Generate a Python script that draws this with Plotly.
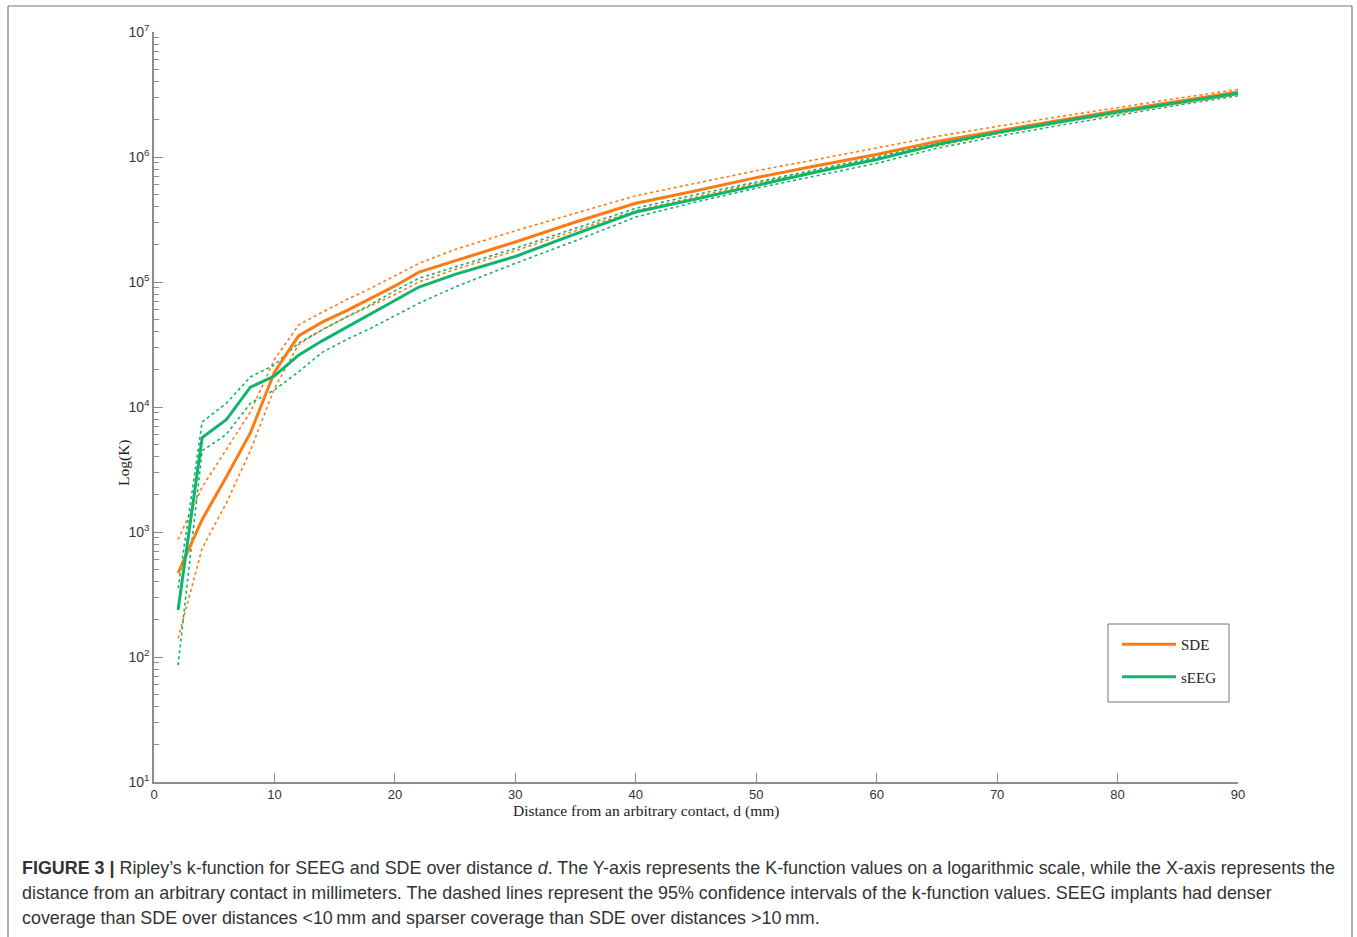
import plotly.graph_objects as go

# distance (mm)
distance = [2, 4, 6, 8, 10, 12, 14, 16, 18, 20, 22, 25, 30, 35, 40, 45, 50, 55, 60, 65, 70, 75, 80, 85, 90]

# SDE k-function and 95% CI
sde_k = [468, 1260, 2750, 6200, 19000, 37000, 48000, 59000, 74000, 93000, 120000, 148000, 209000,
         302000, 427000, 537000, 684000, 851000, 1047000, 1334000, 1622000, 1950000, 2344000, 2786000, 3311000]
sde_upper = [871, 2290, 4570, 9120, 24000, 45300, 57500, 72400, 89100, 112000, 141000, 182000, 257000,
             355000, 490000, 617000, 776000, 955000, 1175000, 1462000, 1758000, 2089000, 2512000, 2951000, 3467000]
sde_lower = [141, 741, 1700, 4470, 14100, 31600, 41700, 52500, 64600, 79400, 100000, 126000, 178000,
             257000, 372000, 479000, 617000, 776000, 977000, 1230000, 1531000, 1862000, 2239000, 2661000, 3162000]

# sEEG k-function and 95% CI
seeg_k = [238, 5700, 7900, 14400, 17700, 26000, 34000, 43600, 56000, 71800, 91200, 115000, 160000,
          243000, 363000, 462000, 596000, 759000, 955000, 1259000, 1567000, 1897000, 2291000, 2723000, 3236000]
seeg_upper = [355, 7590, 10700, 17400, 21700, 32400, 41700, 52500, 66100, 85100, 107000, 132000, 186000,
              269000, 389000, 501000, 631000, 794000, 1000000, 1303000, 1622000, 1950000, 2344000, 2786000, 3311000]
seeg_lower = [86, 4470, 6030, 10700, 13700, 19100, 27500, 34700, 42700, 53700, 67600, 91200, 141000,
              214000, 331000, 437000, 562000, 708000, 891000, 1175000, 1462000, 1778000, 2163000, 2600000, 3090000]

x_ticks = [0, 10, 20, 30, 40, 50, 60, 70, 80, 90]
y_ticks = [10, 100, 1000, 10000, 100000, 1000000, 10000000]
y_ticktext = ["10<sup>1</sup>", "10<sup>2</sup>", "10<sup>3</sup>", "10<sup>4</sup>",
              "10<sup>5</sup>", "10<sup>6</sup>", "10<sup>7</sup>"]

ORANGE = "#FF7A12"
GREEN = "#10B46C"

fig = go.Figure()
for y, c in [(sde_upper, ORANGE), (sde_lower, ORANGE), (seeg_upper, GREEN), (seeg_lower, GREEN)]:
    fig.add_trace(go.Scatter(x=distance, y=y, mode="lines", showlegend=False,
                             line=dict(color=c, width=1.6, dash="3px,3px"), hoverinfo="skip"))
fig.add_trace(go.Scatter(x=distance, y=sde_k, mode="lines", name="SDE", legendgroup="a",
                         line=dict(color=ORANGE, width=3)))
fig.add_trace(go.Scatter(x=distance, y=seeg_k, mode="lines", name="sEEG", legendgroup="b",
                         line=dict(color=GREEN, width=3)))

minor_vals = [m * 10 ** e for e in range(1, 7) for m in range(2, 10)]

W, H = 1357, 937
L, R, T, B = 154, 1238, 32, 782
pw, ph = R - L, B - T


def px(xp):
    return (xp - L) / pw


def py(yp):
    return (B - yp) / ph


AX = "#8c8c8c"
fig.update_layout(
    width=W, height=H,
    margin=dict(l=L, r=W - R, t=T, b=H - B),
    paper_bgcolor="white", plot_bgcolor="white",
    showlegend=True,
    legend=dict(x=px(1117), y=py(628), xanchor="left", yanchor="top",
                bgcolor="rgba(0,0,0,0)", borderwidth=0,
                font=dict(family="Liberation Serif", size=15, color="#222"),
                traceorder="grouped", tracegroupgap=10, itemwidth=54),
    xaxis=dict(range=[0, 90], tickvals=x_ticks, ticks="inside", ticklen=9, tickwidth=1.2,
               tickcolor=AX, showline=True, linecolor=AX, linewidth=1.5, showgrid=False,
               zeroline=False, tickfont=dict(family="Liberation Sans", size=13, color="#333")),
    yaxis=dict(type="log", range=[1, 7], tickvals=y_ticks, ticktext=y_ticktext,
               ticks="inside", ticklen=9, tickwidth=1.2, tickcolor=AX,
               showline=True, linecolor=AX, linewidth=1.5, showgrid=False, zeroline=False,
               minor=dict(tickvals=minor_vals, ticks="inside", ticklen=5, tickwidth=1,
                          tickcolor=AX, showgrid=False),
               tickfont=dict(family="Liberation Sans", size=14, color="#333")),
)

# legend box
fig.add_shape(type="rect", xref="paper", yref="paper",
              x0=px(1108), x1=px(1229), y0=py(702), y1=py(624),
              line=dict(color="#777", width=1), fillcolor="rgba(0,0,0,0)")

# outer frame
for x0, y0, x1, y1 in [(8, 6, 8, 940), (8, 6, 1352, 6), (1352, 6, 1352, 940)]:
    fig.add_shape(type="line", xref="paper", yref="paper",
                  x0=px(x0), x1=px(x1), y0=py(y0), y1=py(y1),
                  line=dict(color="#7a7a7a", width=1.2))

# axis titles
fig.add_annotation(text="Distance from an arbitrary contact, d (mm)", xref="paper", yref="paper",
                   x=px(646), y=py(811), xanchor="center", yanchor="middle", showarrow=False,
                   font=dict(family="Liberation Serif", size=15.5, color="#222"))
fig.add_annotation(text="Log(K)", xref="paper", yref="paper", textangle=-90,
                   x=px(124), y=py(463), xanchor="center", yanchor="middle", showarrow=False,
                   font=dict(family="Liberation Serif", size=15.5, color="#222"))

caption = [
    "<b>FIGURE 3 |</b> Ripley\u2019s k-function for SEEG and SDE over distance <i>d</i>. The Y-axis represents the K-function values on a logarithmic scale, while the X-axis represents the",
    "distance from an arbitrary contact in millimeters. The dashed lines represent the 95% confidence intervals of the k-function values. SEEG implants had denser",
    "coverage than SDE over distances &lt;10\u2009mm and sparser coverage than SDE over distances &gt;10\u2009mm.",
]
for i, line in enumerate(caption):
    fig.add_annotation(text=line, xref="paper", yref="paper", x=px(20), y=py(868 + 25 * i),
                       xanchor="left", yanchor="middle", showarrow=False, align="left",
                       font=dict(family="Liberation Sans", size=17.9, color="#333"))

fig.write_html("out.html", config={"displayModeBar": False},
               post_script="document.body.style.margin='0';document.body.style.overflow='hidden';")
